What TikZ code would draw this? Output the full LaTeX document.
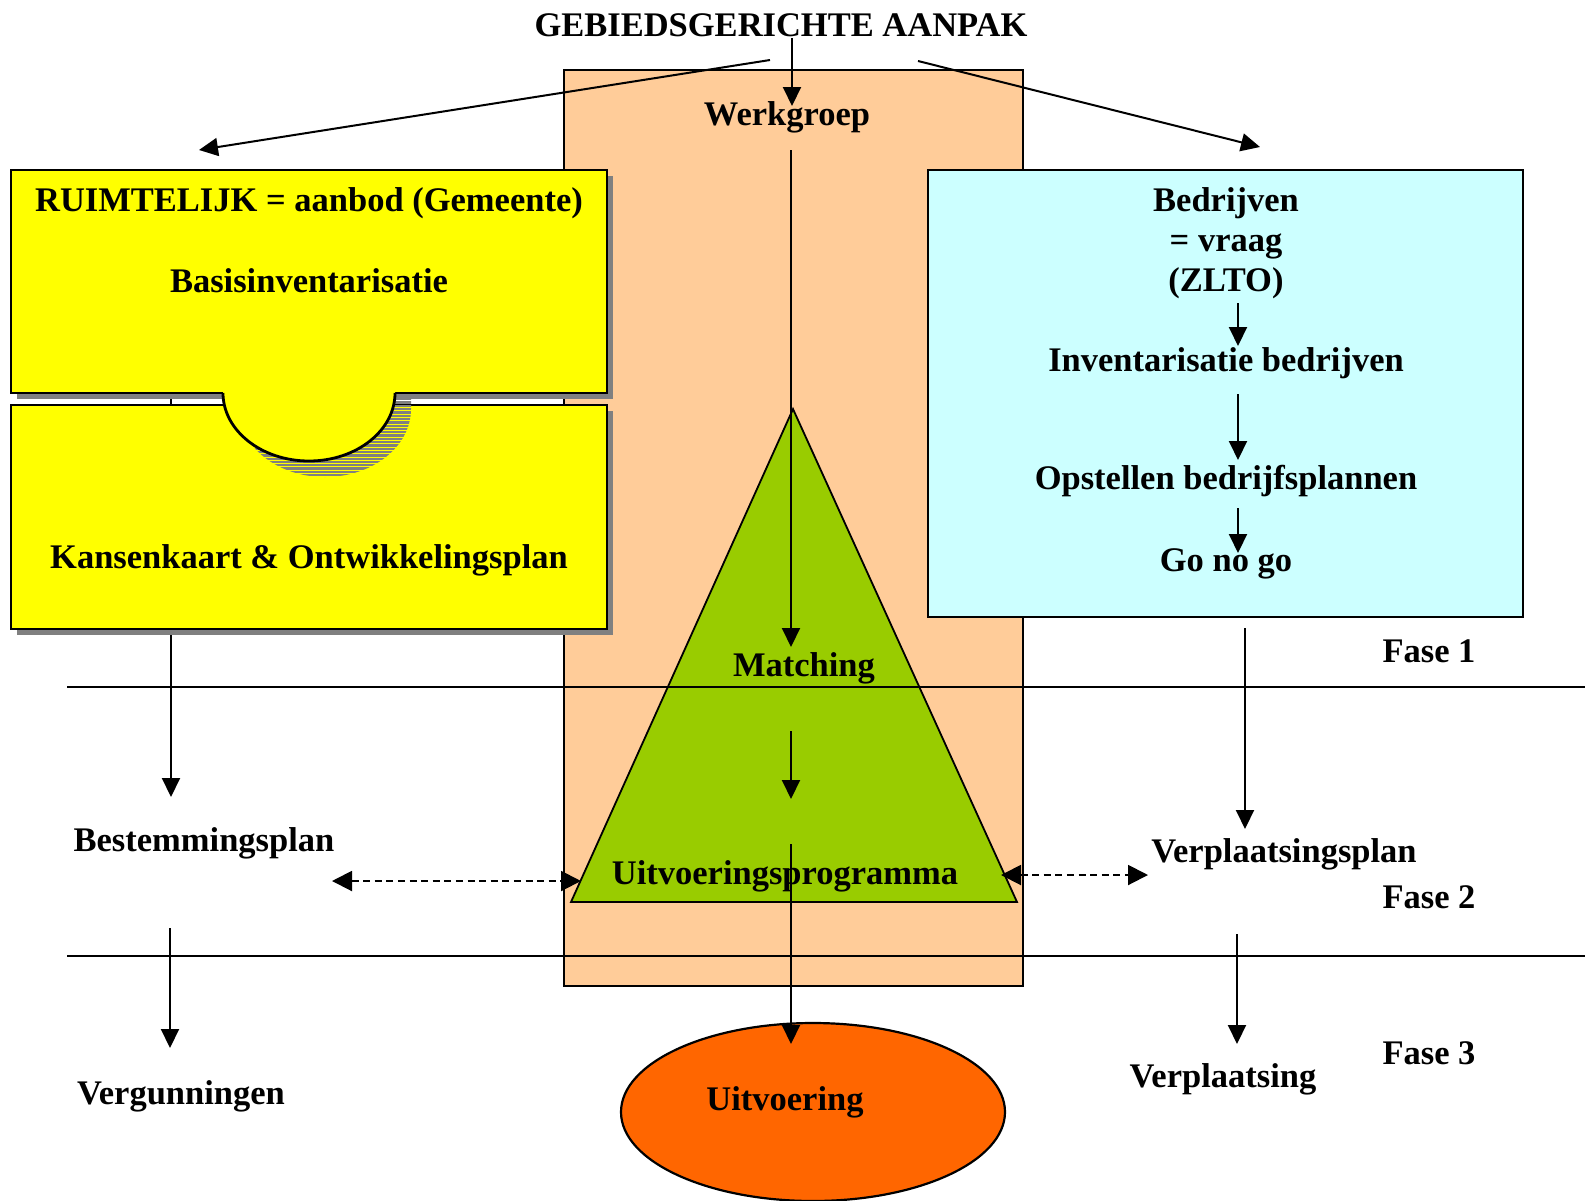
\documentclass[tikz,border=0pt]{standalone}
\usepackage{fontspec}
\setmainfont{Liberation Serif}
\usetikzlibrary{arrows.meta}
\definecolor{peach}{HTML}{FFCC99}
\definecolor{ylw}{HTML}{FFFF00}
\definecolor{cyanbox}{HTML}{CCFFFF}
\definecolor{grn}{HTML}{99CC00}
\definecolor{orng}{HTML}{FF6600}
\definecolor{shd}{HTML}{808080}
\begin{document}
\begin{tikzpicture}[x=0.5pt,y=-0.5pt,
  lbl/.style={inner sep=0pt, anchor=base, font=\fontsize{17.25}{20}\selectfont\bfseries},
  arr/.style={line width=1pt, -{Triangle[length=9.5pt,width=9pt]}},
  darr/.style={line width=1pt, dash pattern=on 3.5pt off 2.3pt, {Triangle[length=10pt,width=10pt]}-{Triangle[length=10pt,width=10pt]}},
  ln/.style={line width=1pt},
  boxline/.style={line width=1.2pt}]
\useasboundingbox (0,0) rectangle (1585,1200);
% Werkgroep column
\filldraw[fill=peach, line width=0.8pt] (564,70) rectangle (1023,986);
% coordinates for connectors
\coordinate (lA) at (171,393); \coordinate (lB) at (171,797);
\draw[arr] (lA) -- (lB);
% yellow boxes
\fill[shd] (17,176) rectangle (613,399);
\filldraw[fill=ylw, boxline] (11,170) rectangle (607,393);
\fill[shd] (17,411) rectangle (613,635);
\filldraw[fill=ylw, boxline] (11,405) rectangle (607,629);
% puzzle tab shadow (striped)
\begin{scope}
\clip (411,397) -- (411,409) arc[start angle=0, end angle=180, x radius=86, y radius=68] -- (239,397) -- cycle;
\foreach \yy in {396,399.3,...,482} {\draw[shd, line width=1.15pt] (230,\yy) -- (420,\yy);}
\end{scope}
% puzzle tab
\fill[ylw] (395,389) -- (395,393) arc[start angle=0, end angle=180, x radius=86, y radius=68] -- (223,389) -- cycle;
\draw[line width=1.4pt] (395,393) arc[start angle=0, end angle=180, x radius=86, y radius=68];
% cyan box
\filldraw[fill=cyanbox, boxline] (928,170) rectangle (1523,617);
% triangle
\filldraw[fill=grn, line width=0.9pt] (793,409) -- (1017,902) -- (571,902) -- cycle;
% ellipse
\filldraw[fill=orng, line width=1.1pt] (813,1112) ellipse [x radius=192, y radius=89];
% phase lines
\coordinate (h1a) at (67,687); \coordinate (h1b) at (1585,687);
\coordinate (h2a) at (67,956); \coordinate (h2b) at (1585,956);
\draw[ln] (h1a) -- (h1b);
\draw[ln] (h2a) -- (h2b);
% texts
\node[lbl] (title) at (781,36) {GEBIEDSGERICHTE AANPAK};
\node[lbl] (wg) at (787,125) {Werkgroep};
\node[lbl] (ruim) at (309,211) {RUIMTELIJK = aanbod (Gemeente)};
\node[lbl] (basis) at (309,292) {Basisinventarisatie};
\node[lbl] (kans) at (309,568) {Kansenkaart \& Ontwikkelingsplan};
\node[lbl] (bedr) at (1226,211) {Bedrijven};
\node[lbl] (vraag) at (1226,251) {= vraag};
\node[lbl] (zlto) at (1226,291) {(ZLTO)};
\node[lbl] (inv) at (1226,371) {Inventarisatie bedrijven};
\node[lbl] (opst) at (1226,489) {Opstellen bedrijfsplannen};
\node[lbl] (gonogo) at (1226,571) {Go no go};
\node[lbl] (f1) at (1429,662) {Fase 1};
\node[lbl] (f2) at (1429,908) {Fase 2};
\node[lbl] (f3) at (1429,1064) {Fase 3};
\node[lbl] (match) at (804,676) {Matching};
\node[lbl] (bestem) at (204,851) {Bestemmingsplan};
\node[lbl] (vergun) at (181,1104) {Vergunningen};
\node[lbl] (verplplan) at (1284,862) {Verplaatsingsplan};
\node[lbl] (verpl) at (1223,1087) {Verplaatsing};
\node[lbl] (uitv) at (785,1110) {Uitvoering};
% connector end points
\coordinate (c1a) at (792,38);  \coordinate (c1b) at (792,106);
\coordinate (c2a) at (770,60);  \coordinate (c2b) at (199,150);
\coordinate (c3a) at (918,61);  \coordinate (c3b) at (1260,147);
\coordinate (c4a) at (791,150); \coordinate (c4b) at (791,647);
\coordinate (c5a) at (791,731); \coordinate (c5b) at (791,799);
\coordinate (c6a) at (791,844); \coordinate (c6b) at (791,1044);
\coordinate (c7a) at (170,928); \coordinate (c7b) at (170,1048);
\coordinate (c8a) at (1238,303); \coordinate (c8b) at (1238,346);
\coordinate (c9a) at (1238,394); \coordinate (c9b) at (1238,460);
\coordinate (c10a) at (1238,508); \coordinate (c10b) at (1238,553);
\coordinate (c11a) at (1245,628); \coordinate (c11b) at (1245,829);
\coordinate (c12a) at (1237,934); \coordinate (c12b) at (1237,1044);
\coordinate (d1a) at (332,881); \coordinate (d1b) at (581,881);
\coordinate (d2a) at (1001,875); \coordinate (d2b) at (1148,875);
\draw[arr] (c1a) -- (c1b);
\draw[arr] (c2a) -- (c2b);
\draw[arr] (c3a) -- (c3b);
\draw[arr] (c4a) -- (c4b);
\draw[arr] (c5a) -- (c5b);
\node[lbl] (uprog) at (785,884) {Uitvoeringsprogramma};
\draw[arr] (c6a) -- (c6b);
\draw[arr] (c7a) -- (c7b);
\draw[arr] (c8a) -- (c8b);
\draw[arr] (c9a) -- (c9b);
\draw[arr] (c10a) -- (c10b);
\draw[arr] (c11a) -- (c11b);
\draw[arr] (c12a) -- (c12b);
\draw[darr] (d1a) -- (d1b);
\draw[darr] (d2a) -- (d2b);
\end{tikzpicture}
\end{document}
